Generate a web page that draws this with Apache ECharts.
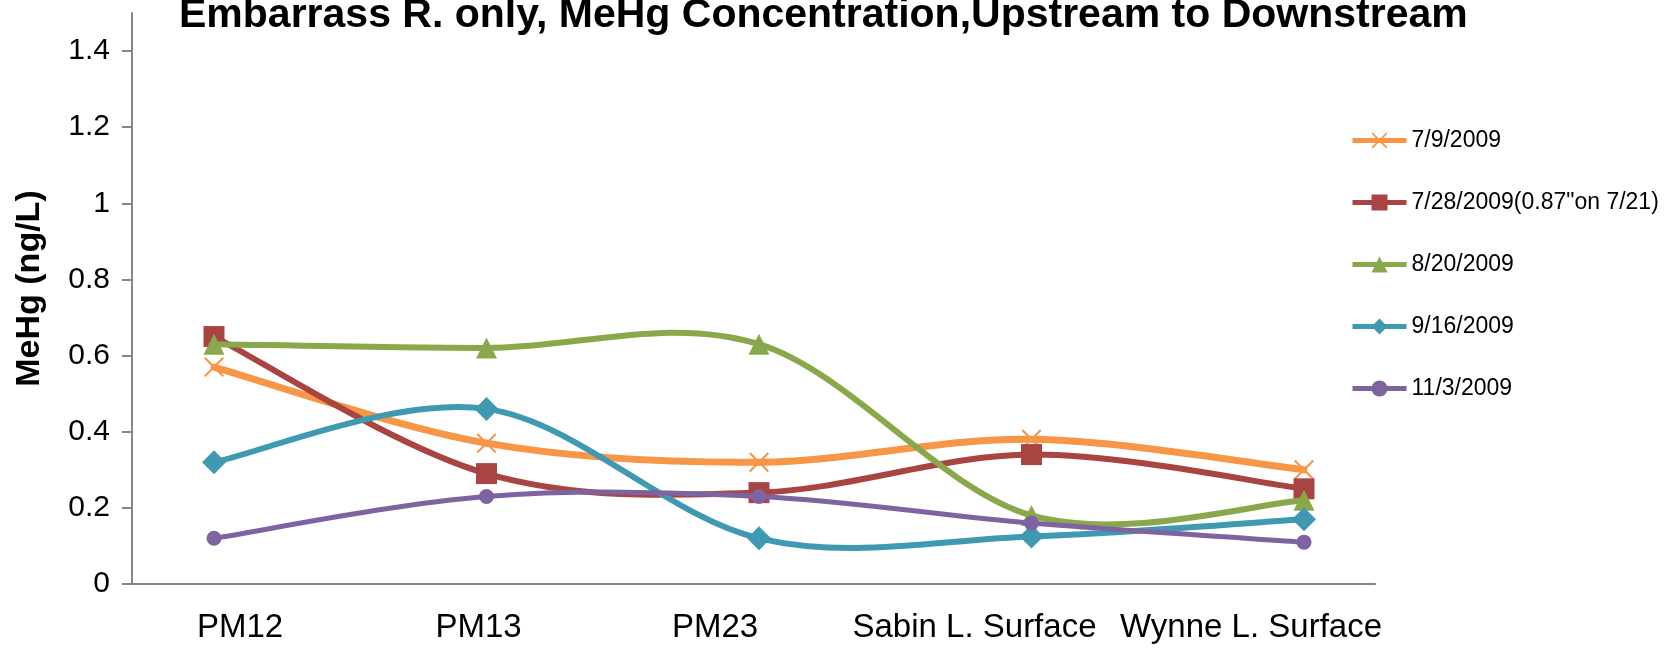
<!DOCTYPE html>
<html>
<head>
<meta charset="utf-8">
<title>Embarrass R. MeHg</title>
<script src="https://cdn.jsdelivr.net/npm/echarts@6/dist/echarts.min.js"></script>
<style>
  html, body { margin: 0; padding: 0; background: #fff; }
  #chart { width: 1671px; height: 649px; }
</style>
</head>
<body>
<div id="chart"></div>
<script>
// Sampling sites, upstream to downstream
const sites = ['PM12', 'PM13', 'PM23', 'Sabin L. Surface', 'Wynne L. Surface'];

// MeHg concentration (ng/L) per sampling date
const jul09 = [0.57, 0.37, 0.32, 0.38, 0.30];
const jul28 = [0.65, 0.29, 0.24, 0.34, 0.25];
const aug20 = [0.63, 0.62, 0.63, 0.18, 0.22];
const sep16 = [0.32, 0.46, 0.12, 0.125, 0.17];
const nov03 = [0.12, 0.23, 0.23, 0.16, 0.11];

const seriesNames = ['7/9/2009', '7/28/2009(0.87"on 7/21)', '8/20/2009', '9/16/2009', '11/3/2009'];
const yTicks = [0, 0.2, 0.4, 0.6, 0.8, 1, 1.2, 1.4];

const FONT = '"Liberation Sans", Arial, sans-serif';
const colors = ['#F79646', '#A84441', '#89A84B', '#4099B2', '#7F63A1'];

// Thin "x" cross drawn as a filled outline
const crossSymbol = 'path://M1.5,0 L10,8.5 L18.5,0 L20,1.5 L11.5,10 L20,18.5 L18.5,20 L10,11.5 L1.5,20 L0,18.5 L8.5,10 L0,1.5 Z';

// Per-site horizontal nudges of the category labels (rich padding)
const labelPad = [[0, 0, 0, 52], [0, 16, 0, 0], [0, 88, 0, 0], [0, 114, 0, 0], [0, 106, 0, 0]];
const rich = {};
labelPad.forEach((p, i) => {
  rich['c' + i] = { padding: p, fontSize: 33, fontFamily: FONT, color: '#000' };
});

// Smoothed curve through the data points (Catmull-Rom style Bezier segments),
// positioned with the axes' own coordinate mapping.
function curve(key, data, color, width, z) {
  return {
    name: 'curve ' + key,
    type: 'custom',
    xAxisIndex: 1,
    yAxisIndex: 1,
    data: data.map((v, i) => [i, v]),
    silent: true,
    clip: false,
    z: z,
    renderItem: function (params, api) {
      if (params.dataIndex !== 0) return null;
      const p = data.map((v, i) => api.coord([i, v]));
      const n = p.length;
      const children = [];
      for (let i = 0; i < n - 1; i++) {
        const p0 = p[Math.max(i - 1, 0)];
        const p1 = p[i];
        const p2 = p[i + 1];
        const p3 = p[Math.min(i + 2, n - 1)];
        children.push({
          type: 'bezierCurve',
          shape: {
            x1: p1[0], y1: p1[1],
            cpx1: p1[0] + (p2[0] - p0[0]) / 6, cpy1: p1[1] + (p2[1] - p0[1]) / 6,
            cpx2: p2[0] - (p3[0] - p1[0]) / 6, cpy2: p2[1] - (p3[1] - p1[1]) / 6,
            x2: p2[0], y2: p2[1]
          },
          style: { stroke: color, lineWidth: width, fill: 'none', lineCap: 'round' }
        });
      }
      return { type: 'group', children: children };
    }
  };
}

// Markers (and legend entries) for one sampling date
function markers(name, data, color, symbol, size, z) {
  return {
    name: name,
    type: 'line',
    xAxisIndex: 1,
    yAxisIndex: 1,
    data: data,
    symbol: symbol,
    symbolSize: size,
    showAllSymbol: true,
    lineStyle: { color: color, width: 5, opacity: 0 },
    itemStyle: { color: color, opacity: 1 },
    emphasis: { disabled: true },
    z: z
  };
}

const chart = echarts.init(document.getElementById('chart'), null, { renderer: 'canvas' });

chart.setOption({
  animation: false,
  backgroundColor: '#fff',
  title: {
    text: 'Embarrass R. only, MeHg Concentration,Upstream to Downstream',
    left: 174,
    top: -10,
    padding: 5,
    textStyle: { fontFamily: FONT, fontWeight: 'bold', fontSize: 41, color: '#000' }
  },
  legend: {
    orient: 'vertical',
    left: 1345,
    top: 124,
    itemWidth: 54,
    itemHeight: 20,
    itemGap: 39,
    data: seriesNames,
    lineStyle: { width: 5, opacity: 1 },
    textStyle: { fontFamily: FONT, fontSize: 23, color: '#000', lineHeight: 20 }
  },
  grid: [
    { left: 132, top: 13, width: 1243, height: 571 },
    { left: 214, top: 13, width: 1090, height: 571 }
  ],
  xAxis: [
    {
      gridIndex: 0,
      type: 'value',
      min: 0,
      max: 1,
      axisLine: { show: true, lineStyle: { color: '#868686', width: 2 } },
      axisTick: { show: false },
      axisLabel: { show: false },
      splitLine: { show: false }
    },
    {
      gridIndex: 1,
      type: 'category',
      data: sites,
      boundaryGap: false,
      axisLine: { show: false },
      axisTick: { show: false },
      splitLine: { show: false },
      axisLabel: {
        interval: 0,
        margin: 27,
        fontFamily: FONT,
        fontSize: 33,
        color: '#000',
        formatter: (v, i) => '{c' + i + '|' + v + '}',
        rich: rich
      }
    }
  ],
  yAxis: [
    {
      gridIndex: 0,
      type: 'value',
      min: 0,
      max: 1.5,
      name: 'MeHg (ng/L)',
      nameLocation: 'middle',
      nameGap: 85,
      nameTextStyle: {
        fontFamily: FONT, fontWeight: 'bold', fontSize: 34, color: '#000',
        padding: [0, 0, 0, 20]
      },
      axisLine: { show: true, lineStyle: { color: '#868686', width: 2 } },
      axisTick: {
        show: true, length: 10, inside: false,
        customValues: yTicks,
        lineStyle: { color: '#868686', width: 2 }
      },
      axisLabel: {
        margin: 22,
        fontFamily: FONT,
        fontSize: 30,
        color: '#000',
        customValues: yTicks
      },
      splitLine: { show: false }
    },
    {
      gridIndex: 1,
      type: 'value',
      min: 0,
      max: 1.5,
      show: false,
      splitLine: { show: false }
    }
  ],
  series: [
    curve('a', jul09, colors[0], 7, 10),
    markers(seriesNames[0], jul09, colors[0], crossSymbol, 20, 11),
    curve('b', jul28, colors[1], 6, 12),
    markers(seriesNames[1], jul28, colors[1], 'rect', 21, 13),
    curve('c', aug20, colors[2], 6, 14),
    markers(seriesNames[2], aug20, colors[2], 'triangle', 21, 15),
    curve('d', sep16, colors[3], 6, 16),
    markers(seriesNames[3], sep16, colors[3], 'diamond', 24, 17),
    curve('e', nov03, colors[4], 5, 18),
    markers(seriesNames[4], nov03, colors[4], 'circle', 15, 19)
  ]
});
</script>
</body>
</html>
